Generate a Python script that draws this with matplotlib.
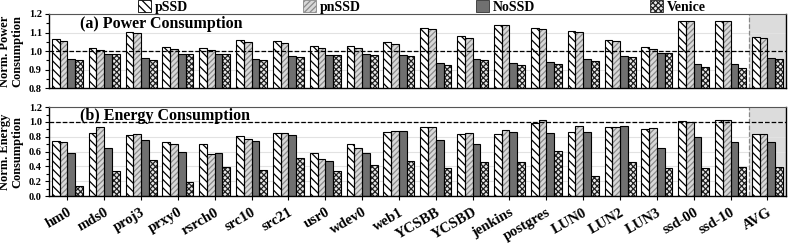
import numpy as np
import matplotlib
matplotlib.use("Agg")
from matplotlib import pyplot as plt
from matplotlib.patches import Patch

# workloads
labels = ['hm0', 'mds0', 'proj3', 'prxy0', 'rsrch0', 'src10', 'src21', 'usr0', 'wdev0',
          'web1', 'YCSBB', 'YCSBD', 'jenkins', 'postgres', 'LUN0', 'LUN2', 'LUN3',
          'ssd-00', 'ssd-10', 'AVG']
series = ['pSSD', 'pnSSD', 'NoSSD', 'Venice']

# (a) normalized power
power_pssd = [1.064, 1.016, 1.104, 1.021, 1.018, 1.059, 1.054, 1.027, 1.027, 1.048,
              1.123, 1.080, 1.141, 1.123, 1.109, 1.061, 1.021, 1.159, 1.159, 1.075]
power_pnssd = [1.055, 1.005, 1.098, 1.011, 1.007, 1.050, 1.045, 1.016, 1.016, 1.041,
               1.118, 1.071, 1.139, 1.118, 1.104, 1.054, 1.011, 1.159, 1.159, 1.068]
power_nossd = [0.957, 0.986, 0.963, 0.984, 0.986, 0.957, 0.973, 0.979, 0.986, 0.979,
               0.938, 0.957, 0.939, 0.943, 0.959, 0.975, 0.991, 0.932, 0.929, 0.964]
power_venice = [0.954, 0.986, 0.952, 0.984, 0.986, 0.952, 0.968, 0.979, 0.982, 0.973,
                0.925, 0.950, 0.925, 0.932, 0.946, 0.968, 0.989, 0.916, 0.912, 0.959]

# (b) normalized energy
energy_pssd = [0.739, 0.847, 0.829, 0.730, 0.707, 0.811, 0.856, 0.586, 0.703, 0.860,
               0.928, 0.842, 0.838, 0.991, 0.865, 0.937, 0.901, 1.009, 1.023, 0.842]
energy_pnssd = [0.725, 0.937, 0.833, 0.703, 0.572, 0.766, 0.847, 0.495, 0.653, 0.878,
                0.928, 0.851, 0.887, 1.023, 0.946, 0.928, 0.914, 0.995, 1.023, 0.833]
energy_nossd = [0.577, 0.649, 0.752, 0.599, 0.586, 0.739, 0.820, 0.473, 0.581, 0.878,
                0.757, 0.707, 0.869, 0.856, 0.860, 0.950, 0.644, 0.793, 0.725, 0.725]
energy_venice = [0.135, 0.338, 0.491, 0.189, 0.392, 0.347, 0.518, 0.333, 0.419, 0.477,
                 0.378, 0.459, 0.459, 0.613, 0.266, 0.464, 0.374, 0.374, 0.387, 0.387]

plt.rcParams['font.family'] = ['Liberation Serif', 'DejaVu Serif']
plt.rcParams['font.weight'] = 'bold'
plt.rcParams['hatch.linewidth'] = 0.9

# face, hatch, hatch colour
styles = [('white', '\\\\\\\\', 'black'),
          ('#d8d8d8', '//////', '#8a8a8a'),
          ('#707070', '', '#707070'),
          ('#e8e8e8', 'xxxxxx', '#202020')]

x = np.arange(len(labels))
w = 0.21
offs = [-1.5 * w, -0.5 * w, 0.5 * w, 1.5 * w]


def draw(ax, data, ylim, yticks, minor, title, ty):
    ax.axvspan(len(labels) - 1.5, len(labels) - 0.5, color='#dcdcdc', zorder=0, lw=0)
    ax.axvline(len(labels) - 1.5, color='#888888', ls='--', lw=0.9, zorder=1)
    for yv in yticks:
        ax.axhline(yv, color='#e2e2e2', lw=0.8, zorder=0.5)
    for vals, off, (fc, ht, hc) in zip(data, offs, styles):
        ax.bar(x + off, vals, w, color=fc, hatch=ht, edgecolor=hc, lw=0, zorder=2)
        ax.bar(x + off, vals, w, fill=False, edgecolor='black', lw=0.8, zorder=3)
    ax.axhline(1.0, color='black', ls='--', lw=0.9, zorder=4)
    ax.set_xlim(-0.5, len(labels) - 0.5)
    ax.set_ylim(*ylim)
    ax.set_yticks(yticks)
    ax.set_yticks(minor, minor=True)
    ax.tick_params(axis='y', labelsize=7.5, length=3, width=0.8, pad=2)
    ax.tick_params(axis='y', which='minor', length=2, width=0.8)
    ax.set_xticks(x)
    ax.text(0.042, ty, title, transform=ax.transAxes, fontsize=11.5, fontweight='bold',
            va='center', zorder=5)
    for s in ['left', 'bottom', 'right']:
        ax.spines[s].set_linewidth(1.0)
    ax.spines['top'].set_color('#555555')


fig = plt.figure(figsize=(7.89, 2.43), dpi=100)
ax1 = fig.add_axes([0.062, 0.636, 0.934, 0.307])
ax2 = fig.add_axes([0.062, 0.193, 0.934, 0.366])

draw(ax1, [power_pssd, power_pnssd, power_nossd, power_venice], (0.8, 1.2),
     [0.8, 0.9, 1.0, 1.1, 1.2], [0.85, 0.95, 1.05, 1.15], '(a) Power Consumption', 0.865)
ax1.set_yticklabels(['0.8', '0.9', '1.0', '1.1', '1.2'])
ax1.tick_params(axis='x', length=0, labelbottom=False)
ax1.set_ylabel('Norm. Power\nConsumption', fontsize=9, fontweight='bold', labelpad=4,
               linespacing=1.0)

draw(ax2, [energy_pssd, energy_pnssd, energy_nossd, energy_venice], (0.0, 1.2),
     [0.0, 0.2, 0.4, 0.6, 0.8, 1.0, 1.2], [0.1, 0.3, 0.5, 0.7, 0.9, 1.1],
     '(b) Energy Consumption', 0.9)
ax2.set_yticklabels(['0.0', '0.2', '0.4', '0.6', '0.8', '1.0', '1.2'])
ax2.set_xticklabels(labels, rotation=30, fontsize=10.5, fontweight='bold', ha='right',
                    rotation_mode='anchor')
ax2.tick_params(axis='x', length=3, width=0.8, pad=4)
ax2.set_ylabel('Norm. Energy\nConsumption', fontsize=9, fontweight='bold', labelpad=4,
               linespacing=1.0)

handles = [Patch(facecolor=fc, hatch=ht, edgecolor=hc if hc != '#707070' else '#333333',
                 lw=0.6)
           for fc, ht, hc in styles]
fig.legend(handles, series, loc='center', bbox_to_anchor=(0.535, 0.972), ncol=4,
           frameon=False, handlelength=0.9, handleheight=0.9,
           handletextpad=0.3, columnspacing=8.3, prop={'weight': 'bold', 'size': 10})

fig.savefig('out.png', dpi=100)
